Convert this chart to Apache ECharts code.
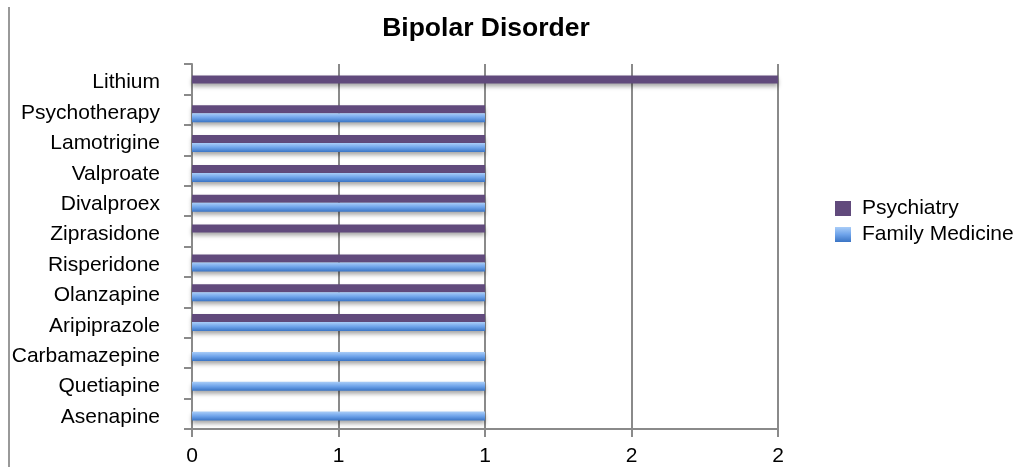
<!DOCTYPE html>
<html><head><meta charset="utf-8">
<script src="https://cdn.jsdelivr.net/npm/echarts@6/dist/echarts.min.js"></script>
<style>html,body{margin:0;padding:0;background:#fff}#c{width:1022px;height:467px}</style>
</head><body><div id="c"></div>
<script>
var categories = ['Lithium','Psychotherapy','Lamotrigine','Valproate','Divalproex','Ziprasidone','Risperidone','Olanzapine','Aripiprazole','Carbamazepine','Quetiapine','Asenapine'];
var psychiatry = [2,1,1,1,1,1,1,1,1,null,null,null];
var familyMedicine = [null,1,1,1,1,null,1,1,1,1,1,1];
var xTicks = [0,0.5,1,1.5,2];

var chart = echarts.init(document.getElementById('c'));
var font = 'Liberation Sans, Arial, Helvetica, sans-serif';
var gray = '#8a8a8a';
var blueGrad = new echarts.graphic.LinearGradient(0,0,0,1,[{offset:0,color:'#a9cdf8'},{offset:0.5,color:'#6ea3ea'},{offset:1,color:'#3a74c4'}]);
var xMin = xTicks[0], xMax = xTicks[xTicks.length-1], xInt = xTicks[1]-xTicks[0];
chart.setOption({
  animation:false,
  title:{text:'Bipolar Disorder',left:481,textAlign:'center',top:10,textStyle:{fontFamily:font,fontSize:26.5,fontWeight:'bold',color:'#000'}},
  legend:{orient:'vertical',left:830,top:193,itemWidth:16,itemHeight:15,itemGap:5,icon:'rect',
    textStyle:{fontFamily:font,fontSize:21,lineHeight:21,color:'#000',padding:[0,0,0,6]},
    data:['Psychiatry','Family Medicine']},
  grid:[
    {left:192,right:244,top:64,bottom:38},
    {left:192,right:244,top:69,bottom:40},
    {left:192,right:244,top:67.3,bottom:34.7}
  ],
  xAxis:[
    {type:'value',gridIndex:0,min:xMin,max:xMax,interval:xInt,
    axisLine:{show:true,lineStyle:{color:gray,width:2}},
    axisTick:{show:true,length:8,lineStyle:{color:gray,width:2}},
    splitLine:{show:true,lineStyle:{color:gray,width:2}},
    axisLabel:{fontFamily:font,fontSize:21,color:'#000',margin:17,formatter:function(v){return String(Math.round(v));}}},
    {type:'value',gridIndex:1,min:xMin,max:xMax,interval:xInt,show:false},
    {type:'value',gridIndex:2,min:xMin,max:xMax,interval:xInt,show:false}
  ],
  yAxis:[
    {type:'category',gridIndex:0,data:categories,inverse:true,
    axisLine:{show:true,lineStyle:{color:gray,width:2}},
    axisTick:{show:true,length:8,lineStyle:{color:gray,width:2}},
    axisLabel:{show:false}},
    {type:'category',gridIndex:1,data:categories,inverse:true,show:false},
    {type:'category',gridIndex:2,data:categories,inverse:true,
    axisLine:{show:false},axisTick:{show:false},splitLine:{show:false},
    axisLabel:{fontFamily:font,fontSize:21,color:'#000',margin:32}}
  ],
  series:[
    {name:'Psychiatry',type:'bar',xAxisIndex:1,yAxisIndex:1,data:psychiatry,barWidth:8,barGap:'0%',
     itemStyle:{color:'#614a7c',shadowBlur:4,shadowColor:'rgba(0,0,0,0.35)',shadowOffsetY:3}},
    {name:'Family Medicine',type:'bar',xAxisIndex:1,yAxisIndex:1,data:familyMedicine,barWidth:9,barGap:'0%',
     itemStyle:{color:blueGrad,shadowBlur:4,shadowColor:'rgba(0,0,0,0.35)',shadowOffsetY:3}}
  ],
  graphic:[{type:'line',shape:{x1:9,y1:7,x2:9,y2:467},style:{stroke:'#999',lineWidth:2}}]
});
</script></body></html>
